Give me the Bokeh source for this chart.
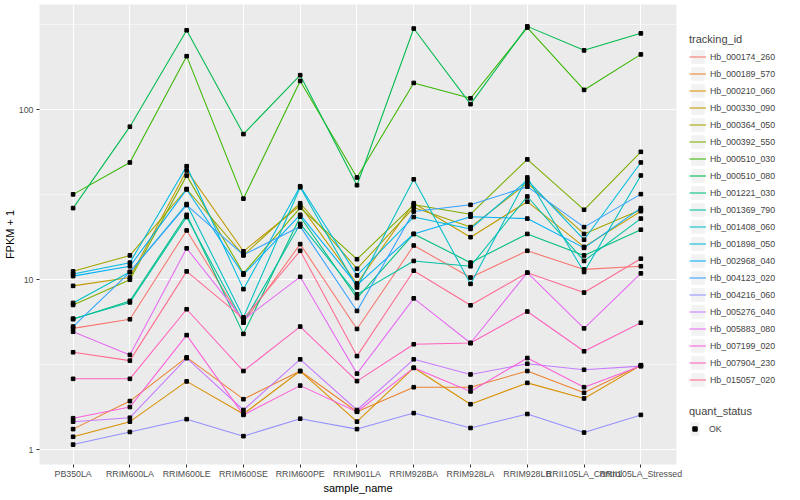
from bokeh.plotting import figure
from bokeh.layouts import row
from bokeh.models import Range1d, FixedTicker, Legend, LegendItem
from bokeh.embed import file_html
from bokeh.resources import INLINE

samples = ["PB350LA", "RRIM600LA", "RRIM600LE", "RRIM600SE", "RRIM600PE", "RRIM901LA",
           "RRIM928BA", "RRIM928LA", "RRIM928LB", "RRII105LA_Control", "RRII105LA_Stressed"]

tracking_ids = ["Hb_000174_260", "Hb_000189_570", "Hb_000210_060", "Hb_000330_090", "Hb_000364_050",
                "Hb_000392_550", "Hb_000510_030", "Hb_000510_080", "Hb_001221_030", "Hb_001369_790",
                "Hb_001408_060", "Hb_001898_050", "Hb_002968_040", "Hb_004123_020", "Hb_004216_060",
                "Hb_005276_040", "Hb_005883_080", "Hb_007199_020", "Hb_007904_230", "Hb_015057_020"]

colors = ["#F8766D", "#EA8331", "#D89000", "#C09B00", "#A3A500", "#7CAE00", "#39B600", "#00BB4E",
          "#00BF7D", "#00C1A3", "#00BFC4", "#00BAE0", "#00B0F6", "#35A2FF", "#9590FF", "#C77CFF",
          "#E76BF3", "#FA62DB", "#FF62BC", "#FF6C91"]

y_ticks = [1, 10, 100]
y_tick_labels = ["1", "10", "100"]
y_minor_ticks = [3.1623, 31.623, 316.23]

quant_status = ["OK"]

hb_000174_260 = [5.17, 5.85, 19.5, 5.6, 16.2, 5.13, 15.9, 10.3, 14.8, 11.5, 12.0]
hb_000189_570 = [1.32, 1.93, 3.49, 1.98, 2.90, 1.67, 2.33, 2.33, 2.90, 2.16, 3.14]
hb_000210_060 = [1.19, 1.46, 2.52, 1.62, 2.90, 1.46, 3.03, 1.85, 2.47, 2.00, 3.13]
hb_000330_090 = [9.2, 10.3, 44.0, 14.7, 27.3, 9.5, 28.2, 17.8, 28.8, 15.6, 25.3]
hb_000364_050 = [11.2, 13.9, 34.2, 13.9, 28.2, 11.6, 26.6, 20.4, 37.0, 18.6, 25.8]
hb_000392_550 = [7.1, 10.0, 41.0, 10.9, 26.5, 13.2, 27.6, 24.3, 51.1, 25.8, 56.6]
hb_000510_030 = [31.8, 49.0, 207.0, 30.0, 148.0, 40.0, 144.0, 117.0, 305.0, 131.0, 212.0]
hb_000510_080 = [26.4, 79.6, 294.0, 72.0, 160.0, 36.0, 301.0, 108.0, 310.0, 224.0, 282.0]
hb_001221_030 = [5.85, 7.5, 24.1, 4.8, 23.5, 7.8, 18.6, 12.6, 18.6, 13.9, 19.7]
hb_001369_790 = [5.9, 7.35, 23.4, 5.6, 21.3, 8.2, 12.9, 12.0, 30.9, 12.9, 22.9]
hb_001408_060 = [7.3, 11.1, 27.9, 6.0, 35.0, 9.0, 39.0, 9.45, 40.0, 11.1, 41.1]
hb_001898_050 = [10.8, 12.6, 46.6, 8.8, 35.5, 10.6, 23.4, 19.9, 38.6, 17.2, 49.0]
hb_002968_040 = [10.5, 12.0, 34.0, 10.7, 24.1, 9.3, 18.6, 23.5, 22.9, 15.4, 26.4]
hb_004123_020 = [5.3, 11.1, 27.5, 14.0, 20.6, 6.55, 25.2, 27.6, 35.3, 20.4, 31.9]
hb_004216_060 = [1.07, 1.27, 1.51, 1.20, 1.52, 1.32, 1.64, 1.34, 1.62, 1.26, 1.60]
hb_005276_040 = [1.46, 1.54, 3.45, 1.71, 3.40, 1.71, 3.40, 2.77, 3.20, 2.95, 3.10]
hb_005883_080 = [4.94, 3.61, 15.3, 5.8, 10.4, 2.80, 7.77, 4.24, 11.0, 5.17, 10.9]
hb_007199_020 = [1.53, 1.78, 4.72, 1.60, 2.38, 1.67, 3.03, 2.20, 3.46, 2.33, 3.10]
hb_007904_230 = [2.61, 2.61, 6.7, 2.90, 5.3, 2.53, 4.17, 4.24, 6.5, 3.79, 5.58]
hb_015057_020 = [3.74, 3.34, 11.2, 5.9, 14.8, 3.55, 11.3, 7.07, 11.0, 8.4, 13.3]

series_values = [hb_000174_260, hb_000189_570, hb_000210_060, hb_000330_090, hb_000364_050,
                 hb_000392_550, hb_000510_030, hb_000510_080, hb_001221_030, hb_001369_790,
                 hb_001408_060, hb_001898_050, hb_002968_040, hb_004123_020, hb_004216_060,
                 hb_005276_040, hb_005883_080, hb_007199_020, hb_007904_230, hb_015057_020]

FONT = "Liberation Sans"
NAN = float("nan")
x_idx = list(range(len(samples)))

W_MAIN, W_LEG, H = 684, 100, 496

p = figure(width=W_MAIN, height=H, y_axis_type="log",
           x_range=Range1d(-0.592, 10.628), y_range=Range1d(0.817, 417),
           output_backend="svg", toolbar_location=None,
           min_border_left=32, min_border_right=8, min_border_top=4, min_border_bottom=28)

p.background_fill_color = "#EBEBEB"
p.border_fill_color = "white"
p.outline_line_color = None

xt = FixedTicker(ticks=x_idx, minor_ticks=[])
p.xaxis.ticker = xt
p.xgrid.ticker = xt
p.xaxis.major_label_overrides = {i: s for i, s in zip(x_idx, samples)}
yt = FixedTicker(ticks=y_ticks, minor_ticks=y_minor_ticks)
p.yaxis.ticker = yt
p.ygrid.ticker = yt
p.yaxis.major_label_overrides = {t: l for t, l in zip(y_ticks, y_tick_labels)}

for ax in (p.xaxis, p.yaxis):
    ax.axis_line_color = None
    ax.major_tick_line_color = "#333333"
    ax.major_tick_line_width = 1
    ax.major_tick_out = 3
    ax.major_tick_in = 0
    ax.minor_tick_line_color = None
    ax.major_label_text_color = "#4D4D4D"
    ax.major_label_text_font = FONT
    ax.major_label_text_font_size = "8.8px"
    ax.axis_label_text_font = FONT
    ax.axis_label_text_font_size = "11px"
    ax.axis_label_text_font_style = "normal"
    ax.axis_label_text_color = "black"
p.xaxis.major_label_standoff = 1
p.xaxis.axis_label_standoff = 0
p.yaxis.major_label_standoff = 2
p.yaxis.axis_label_standoff = 0
p.xaxis.axis_label = "sample_name"
p.yaxis.axis_label = "FPKM + 1"

p.xgrid.grid_line_color = "white"
p.xgrid.grid_line_width = 1.07
p.ygrid.grid_line_color = "white"
p.ygrid.grid_line_width = 1.07
p.ygrid.minor_grid_line_color = "white"
p.ygrid.minor_grid_line_width = 0.53

all_x, all_y = [], []
for col, vals in zip(colors, series_values):
    p.line(x_idx, vals, line_color=col, line_width=1.07)
    all_x.extend(x_idx)
    all_y.extend(vals)
p.scatter(all_x, all_y, marker="square", size=3.6, color="black")

# legend panel (proxy renderers hold no drawable data)
lf = figure(width=W_LEG, height=H, x_range=Range1d(0, W_LEG), y_range=Range1d(0, H),
            output_backend="svg", toolbar_location=None, min_border=0,
            x_axis_location=None, y_axis_location=None)
lf.outline_line_color = None
lf.grid.visible = False
lf.background_fill_color = "white"
lf.border_fill_color = "white"

bg = lf.rect(x=[NAN], y=[NAN], width=1, height=1, fill_color="#F2F2F2", line_color=None)
items = []
for tid, col in zip(tracking_ids, colors):
    r = lf.line(x=[NAN, NAN], y=[NAN, NAN], line_color=col, line_width=1.07)
    items.append(LegendItem(label=tid, renderers=[bg, r]))
pk = lf.scatter(x=[NAN], y=[NAN], marker="square", size=3.6, color="black")

common = dict(orientation="vertical", glyph_height=17, label_height=17,
              spacing=0, padding=0, margin=0, border_line_color=None,
              background_fill_alpha=0, title_text_font=FONT, title_text_font_size="11px",
              title_text_font_style="normal", label_text_font=FONT,
              label_text_font_size="8.8px", title_standoff=3)

leg1 = Legend(items=items, title="tracking_id", location=(5, 76),
              glyph_width=17, label_standoff=4, **common)
leg2 = Legend(items=[LegendItem(label=quant_status[0], renderers=[bg, pk])],
              title="quant_status", location=(5, 27),
              glyph_width=11, label_standoff=9, **common)
lf.add_layout(leg1)
lf.add_layout(leg2)

open("out.html", "w").write(file_html(row(p, lf), INLINE))
